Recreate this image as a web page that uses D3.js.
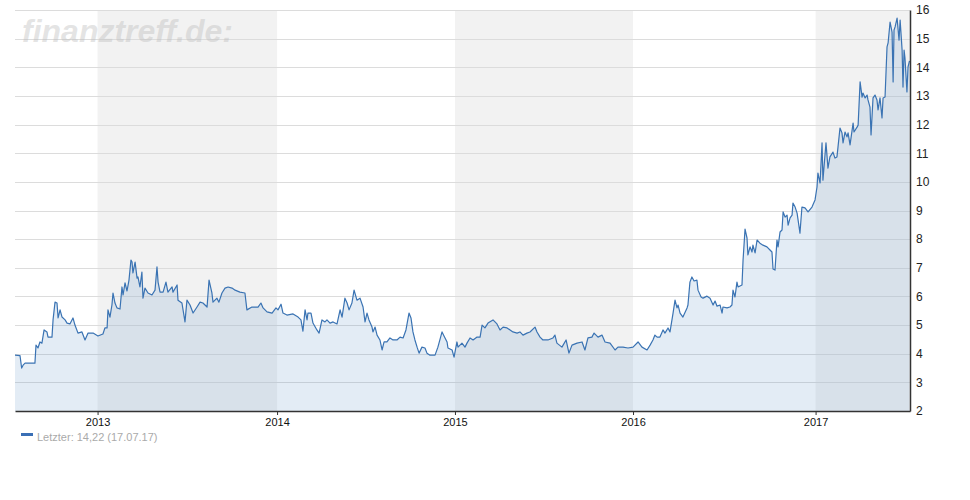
<!DOCTYPE html>
<html><head><meta charset="utf-8">
<script src="https://cdn.jsdelivr.net/npm/d3@7"></script>
<style>body{margin:0;background:#fff;}svg{display:block;font-family:"Liberation Sans",Arial,sans-serif;}</style>
</head><body>
<svg id="c" width="970" height="500"></svg>
<script>
// time as decimal years (trading-time axis), price in EUR
const times = [2012.540,2012.568,2012.577,2012.585,2012.596,2012.651,2012.657,2012.668,2012.679,2012.690,2012.702,2012.718,2012.724,2012.746,2012.752,2012.763,2012.774,2012.780,2012.791,2012.802,2012.819,2012.830,2012.846,2012.863,2012.874,2012.891,2012.913,2012.930,2012.947,2012.975,
2013.002,2013.030,2013.041,2013.053,2013.058,2013.069,2013.080,2013.086,2013.097,2013.108,2013.125,2013.136,2013.142,2013.153,2013.164,2013.175,2013.186,2013.192,2013.197,2013.209,2013.220,2013.225,2013.236,2013.247,2013.253,2013.264,2013.281,2013.303,2013.320,2013.331,2013.337,2013.348,2013.365,2013.381,2013.392,2013.415,2013.420,2013.443,2013.448,2013.470,2013.487,2013.498,2013.515,2013.532,2013.554,2013.571,2013.587,2013.610,2013.621,2013.637,2013.643,2013.665,2013.676,2013.693,2013.710,2013.727,2013.749,2013.766,2013.793,2013.821,2013.832,2013.860,2013.894,2013.910,2013.922,2013.944,2013.972,2013.994,
2014.005,2014.022,2014.033,2014.055,2014.089,2014.117,2014.133,2014.144,2014.156,2014.167,2014.172,2014.189,2014.200,2014.222,2014.234,2014.250,2014.267,2014.278,2014.295,2014.312,2014.334,2014.351,2014.362,2014.378,2014.390,2014.401,2014.417,2014.429,2014.445,2014.462,2014.479,2014.490,2014.501,2014.512,2014.529,2014.534,2014.546,2014.557,2014.573,2014.585,2014.596,2014.612,2014.629,2014.646,2014.668,2014.685,2014.702,2014.718,2014.735,2014.746,2014.757,2014.768,2014.780,2014.791,2014.807,2014.824,2014.835,2014.852,2014.880,2014.896,2014.919,2014.930,2014.947,2014.952,2014.975,2014.986,
2015.002,2015.008,2015.030,2015.047,2015.058,2015.075,2015.092,2015.114,2015.131,2015.142,2015.158,2015.175,2015.203,2015.225,2015.242,2015.259,2015.281,2015.298,2015.314,2015.337,2015.353,2015.370,2015.392,2015.409,2015.437,2015.448,2015.465,2015.481,2015.509,2015.537,2015.548,2015.559,2015.587,2015.610,2015.626,2015.643,2015.671,2015.699,2015.715,2015.732,2015.754,2015.766,2015.788,2015.810,2015.827,2015.855,2015.883,2015.899,2015.927,2015.955,2015.983,
2016.011,2016.033,2016.061,2016.078,2016.094,2016.105,2016.117,2016.133,2016.150,2016.161,2016.178,2016.189,2016.206,2016.217,2016.228,2016.234,2016.245,2016.261,2016.284,2016.289,2016.300,2016.311,2016.323,2016.339,2016.345,2016.362,2016.373,2016.395,2016.412,2016.429,2016.440,2016.451,2016.468,2016.479,2016.484,2016.507,2016.523,2016.534,2016.540,2016.551,2016.562,2016.568,2016.590,2016.596,2016.607,2016.618,2016.623,2016.635,2016.646,2016.651,2016.663,2016.674,2016.690,2016.707,2016.729,2016.746,2016.757,2016.763,2016.774,2016.785,2016.791,2016.802,2016.813,2016.819,2016.830,2016.841,2016.847,2016.858,2016.869,2016.874,2016.886,2016.897,2016.913,2016.924,2016.941,2016.958,2016.980,2016.997,
2017.008,2017.013,2017.025,2017.036,2017.041,2017.058,2017.069,2017.080,2017.097,2017.108,2017.119,2017.125,2017.136,2017.147,2017.153,2017.164,2017.175,2017.181,2017.192,2017.209,2017.214,2017.231,2017.237,2017.248,2017.259,2017.264,2017.276,2017.287,2017.292,2017.303,2017.309,2017.320,2017.331,2017.342,2017.348,2017.359,2017.370,2017.376,2017.387,2017.398,2017.404,2017.415,2017.426,2017.432,2017.437,2017.443,2017.454,2017.465,2017.471,2017.482,2017.487,2017.493,2017.498,2017.509,2017.515,2017.523];
const prices = [3.95,3.93,3.50,3.60,3.67,3.67,4.30,4.20,4.41,4.37,4.83,4.76,4.58,4.58,5.18,5.80,5.77,5.25,5.53,5.28,5.18,5.07,5.04,5.25,5.00,4.72,4.76,4.48,4.72,4.72,
4.62,4.69,4.90,4.90,5.53,5.28,5.70,6.12,5.77,5.60,5.56,6.33,6.05,6.47,6.19,6.57,7.27,7.20,6.82,7.20,6.64,6.68,6.33,6.85,5.94,6.29,6.12,6.05,6.22,7.03,6.50,6.15,6.15,6.50,6.15,6.33,6.15,6.40,5.87,5.77,5.11,5.87,5.70,5.42,5.63,5.80,5.77,5.63,6.57,6.12,5.80,5.94,5.80,6.12,6.29,6.33,6.29,6.22,6.15,6.12,5.53,5.63,5.63,5.77,5.60,5.46,5.42,5.60,
5.53,5.73,5.42,5.35,5.39,5.28,5.18,4.79,5.53,5.18,5.42,5.42,5.07,4.83,4.72,5.18,5.11,5.18,5.07,5.11,5.04,5.53,5.28,5.94,5.77,5.53,5.77,6.22,5.87,5.94,5.63,5.11,5.42,5.18,4.93,4.76,4.93,4.65,4.48,4.13,4.41,4.41,4.55,4.48,4.48,4.58,4.55,4.83,5.42,5.25,4.76,4.48,4.23,4.02,4.23,4.20,4.02,3.95,3.95,4.23,4.76,4.62,4.41,4.20,4.13,3.88,
4.41,4.23,4.37,4.23,4.37,4.55,4.48,4.58,4.58,5.00,4.90,5.07,5.18,5.04,4.83,4.93,4.90,4.83,4.76,4.72,4.76,4.65,4.72,4.76,4.93,4.76,4.58,4.48,4.48,4.55,4.65,4.37,4.23,4.48,4.02,4.30,4.37,4.41,4.13,4.55,4.58,4.72,4.58,4.65,4.41,4.37,4.13,4.23,4.23,4.20,4.23,
4.41,4.23,4.13,4.30,4.48,4.65,4.58,4.58,4.83,4.72,4.90,4.76,5.42,5.87,5.60,5.70,5.42,5.28,5.60,5.70,6.50,6.68,6.54,6.57,6.22,5.98,5.94,6.01,5.94,5.70,5.84,5.66,5.70,5.42,5.63,5.60,5.63,5.70,6.22,5.98,6.50,6.33,6.40,7.27,8.35,8.04,7.45,7.73,7.55,7.79,7.52,7.97,7.86,7.79,7.73,7.62,7.55,6.96,6.92,7.97,7.73,8.25,8.32,8.95,8.77,8.84,8.49,8.74,8.84,9.26,9.12,8.91,8.21,9.12,9.09,8.95,9.12,9.37,
9.82,10.31,9.96,11.36,10.06,11.36,10.48,10.87,11.04,10.83,10.87,11.22,11.88,11.71,11.36,11.74,11.57,11.71,11.29,12.05,11.74,11.91,11.98,13.49,12.96,13.10,12.93,13.03,12.86,12.61,11.64,12.93,13.03,12.86,12.51,12.93,12.23,12.93,12.96,14.71,14.85,15.58,15.23,13.49,15.30,15.41,15.72,14.95,15.65,14.60,13.31,14.60,14.32,13.14,14.01,14.22];

const yTicks = [2,3,4,5,6,7,8,9,10,11,12,13,14,15,16];
const yearLabels = ["2013","2014","2015","2016","2017"];
const yearStarts = [2013.000,2014.000,2014.991,2015.983,2017.000]; // positions on the trading-time axis
const shadedIdx = [0,2,4];
const watermark = "finanztreff.de:";
const legendText = "Letzter: 14,22 (17.07.17)";

const L = 15, R = 910, T = 10, B = 411;
const x = d3.scaleLinear().domain([2012.540, 2017.526]).range([L, R]);
const y = d3.scaleLinear().domain([2, 16]).range([B, T]);
const svg = d3.select("#c");
const data = times.map((t, i) => ({t, v: prices[i]}));

// shaded year bands
svg.append("g").selectAll("rect").data(shadedIdx).join("rect")
  .attr("x", i => x(yearStarts[i])).attr("y", T)
  .attr("width", i => (i + 1 < yearStarts.length ? x(yearStarts[i + 1]) : R) - x(yearStarts[i]))
  .attr("height", B - T)
  .attr("fill", "#f2f2f2");

// grid
svg.append("g").selectAll("line").data(yTicks.slice(1)).join("line")
  .attr("x1", L).attr("x2", R)
  .attr("y1", d => Math.round(y(d)) + 0.5).attr("y2", d => Math.round(y(d)) + 0.5)
  .attr("stroke", "#dcdcdc").attr("stroke-width", 1);

// watermark
svg.append("text").attr("x", 22).attr("y", 42)
  .attr("font-size", 32).attr("font-weight", "bold").attr("font-style", "italic")
  .attr("fill", "rgba(190,190,190,0.42)").text(watermark);

// area + line
svg.append("path").datum(data)
  .attr("d", d3.area().x(d => x(d.t)).y0(B).y1(d => y(d.v)))
  .attr("fill", "rgba(70,130,190,0.15)");
svg.append("path").datum(data)
  .attr("d", d3.line().x(d => x(d.t)).y(d => y(d.v)))
  .attr("fill", "none").attr("stroke", "#3a73b3").attr("stroke-width", 1.2)
  .attr("stroke-linejoin", "round");

// right axis
const ya = svg.append("g").attr("transform", `translate(${R},0)`)
  .call(d3.axisRight(y).tickValues(yTicks).tickSize(0).tickPadding(6).tickFormat(d3.format("d")));
ya.select(".domain").attr("stroke", "#333").attr("stroke-width", 1.5);
ya.selectAll("text").attr("font-size", 12).attr("fill", "#222")
  .attr("font-family", "'Liberation Sans',Arial,sans-serif");

// bottom axis
const xa = svg.append("g").attr("transform", `translate(0,${B})`)
  .call(d3.axisBottom(x).tickValues(yearStarts).tickSize(4).tickPadding(3)
    .tickFormat((d, i) => yearLabels[i]).tickSizeOuter(0));
xa.select(".domain").attr("stroke", "#333").attr("stroke-width", 1.5);
xa.selectAll(".tick line").attr("stroke", "#333");
xa.selectAll("text").attr("font-size", 11).attr("fill", "#111")
  .attr("font-family", "'Liberation Sans',Arial,sans-serif");

// legend
svg.append("rect").attr("x", 21).attr("y", 433).attr("width", 12).attr("height", 3).attr("fill", "#3a6fb5");
svg.append("text").attr("x", 37).attr("y", 441).attr("font-size", 11).attr("fill", "#aaa").text(legendText);
</script>
</body></html>
